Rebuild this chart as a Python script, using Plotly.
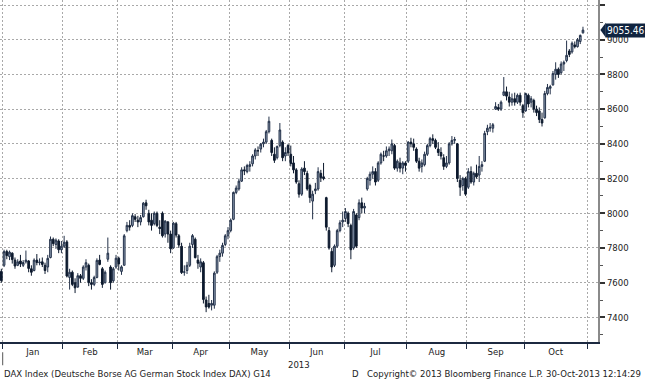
import pandas as pd
import plotly.graph_objects as go

# ---------------- data (DAX daily OHLC, 27-Dec-2012 .. 30-Oct-2013) ----------------
holidays = ["2012-12-31", "2013-01-01", "2013-03-29", "2013-04-01", "2013-05-01"]
month_labels = ["Jan", "Feb", "Mar", "Apr", "May", "Jun", "Jul", "Aug", "Sep", "Oct"]
y_ticks = [7400, 7600, 7800, 8000, 8200, 8400, 8600, 8800, 9000, 9200]

opens = [
    7660, 7665,
    # Jan
    7700, 7780, 7750, 7770, 7730, 7700, 7725, 7700, 7720, 7725, 7680, 7670, 7730, 7715, 7720, 7700, 7690, 7745, 7850, 7820, 7840, 7790,
    # Feb
    7810, 7835, 7630, 7660, 7600, 7575, 7640, 7625, 7690, 7700, 7600, 7590, 7630, 7730, 7680, 7600, 7735, 7690, 7610, 7690,
    # Mar
    7741, 7665, 7700, 7900, 7930, 7930, 7980, 7960, 7950, 7980, 8060, 8000, 7960, 7940, 8000, 7920, 8000, 7880, 7950, 7880,
    # Apr
    7800, 7940, 7870, 7810, 7660, 7670, 7700, 7820, 7850, 7730, 7690, 7715, 7500, 7480, 7470, 7470, 7660, 7750, 7770, 7820, 7870,
    # May
    7900, 7965, 8120, 8140, 8185, 8250, 8240, 8270, 8285, 8330, 8360, 8370, 8400, 8410, 8470, 8420, 8340, 8320, 8390, 8410, 8330, 8390,
    # Jun
    8340, 8290, 8250, 8170, 8110, 8260, 8230, 8160, 8070, 8130, 8140, 8230, 8210, 8090, 7900, 7780, 7700, 7810, 7900, 7950,
    # Jul
    7970, 8000, 7930, 7800, 7990, 7975, 8060, 8030, 8140, 8190, 8225, 8240, 8190, 8290, 8330, 8330, 8360, 8360, 8390, 8260, 8290, 8260, 8290,
    # Aug
    8300, 8410, 8400, 8370, 8300, 8270, 8280, 8340, 8390, 8430, 8420, 8370, 8350, 8320, 8270, 8290, 8400, 8420, 8400, 8190, 8160, 8200,
    # Sep
    8150, 8240, 8180, 8230, 8220, 8270, 8300, 8470, 8490, 8490, 8600, 8610, 8600, 8680, 8700, 8670, 8640, 8660, 8640, 8680, 8620,
    # Oct
    8590, 8680, 8640, 8650, 8600, 8590, 8540, 8550, 8690, 8720, 8740, 8800, 8830, 8810, 8860, 8880, 8935, 8930, 8970, 8960, 8990, 9040,
]
highs = [
    7690, 7680,
    7790, 7790, 7785, 7775, 7745, 7735, 7760, 7730, 7785, 7730, 7700, 7740, 7765, 7740, 7745, 7715, 7760, 7866, 7860, 7855, 7850, 7840,
    7870, 7845, 7680, 7670, 7625, 7655, 7650, 7700, 7735, 7710, 7620, 7640, 7740, 7760, 7690, 7670, 7860, 7700, 7690, 7760,
    7750, 7700, 7880, 7950, 7960, 8000, 7995, 7985, 7990, 8065, 8078, 8020, 8000, 8010, 8010, 7960, 8010, 7960, 7955, 7900,
    7950, 7950, 7880, 7830, 7700, 7720, 7830, 7880, 7860, 7760, 7740, 7725, 7520, 7530, 7500, 7665, 7760, 7790, 7830, 7880, 7920,
    7970, 8125, 8160, 8200, 8265, 8270, 8285, 8300, 8340, 8375, 8385, 8405, 8430, 8480, 8557, 8430, 8380, 8390, 8520, 8420, 8380, 8400,
    8390, 8330, 8260, 8190, 8265, 8300, 8245, 8170, 8130, 8175, 8265, 8250, 8290, 8095, 7920, 7800, 7820, 7910, 7960, 8010,
    8030, 8010, 7940, 8025, 8000, 8080, 8090, 8060, 8210, 8240, 8270, 8260, 8300, 8350, 8360, 8385, 8385, 8425, 8400, 8310, 8320, 8300, 8300,
    8415, 8435, 8430, 8380, 8320, 8310, 8355, 8400, 8440, 8455, 8430, 8410, 8380, 8340, 8330, 8410, 8445, 8440, 8405, 8220, 8210, 8210,
    8260, 8270, 8240, 8280, 8330, 8300, 8475, 8510, 8520, 8520, 8640, 8630, 8650, 8785, 8730, 8700, 8690, 8695, 8690, 8695, 8630,
    8695, 8690, 8675, 8660, 8620, 8610, 8580, 8705, 8745, 8740, 8820, 8870, 8840, 8875, 8880, 8995, 8946, 8990, 8990, 9010, 9030, 9075,
]
lows = [
    7640, 7600,
    7690, 7735, 7730, 7710, 7680, 7695, 7690, 7690, 7710, 7660, 7640, 7665, 7700, 7700, 7690, 7650, 7660, 7740, 7810, 7795, 7770, 7770,
    7800, 7630, 7560, 7580, 7540, 7570, 7600, 7615, 7670, 7580, 7560, 7580, 7625, 7700, 7570, 7595, 7720, 7560, 7600, 7680,
    7670, 7645, 7700, 7890, 7900, 7920, 7950, 7920, 7930, 7975, 8020, 7930, 7900, 7930, 7920, 7880, 7860, 7860, 7830, 7770,
    7795, 7860, 7800, 7650, 7640, 7650, 7690, 7800, 7740, 7680, 7660, 7480, 7430, 7450, 7440, 7450, 7650, 7720, 7750, 7810, 7850,
    7890, 7960, 8110, 8130, 8180, 8220, 8230, 8240, 8270, 8310, 8330, 8350, 8380, 8400, 8460, 8330, 8290, 8310, 8380, 8300, 8300, 8330,
    8270, 8230, 8170, 8090, 8100, 8220, 8130, 8060, 7965, 8110, 8130, 8180, 8190, 7900, 7790, 7660, 7690, 7800, 7890, 7920,
    7950, 7920, 7735, 7790, 7800, 7960, 8000, 8000, 8130, 8160, 8200, 8160, 8180, 8280, 8300, 8320, 8330, 8340, 8250, 8240, 8235, 8225, 8240,
    8290, 8380, 8360, 8290, 8240, 8235, 8270, 8330, 8380, 8400, 8370, 8330, 8310, 8250, 8260, 8280, 8390, 8400, 8180, 8100, 8130, 8100,
    8140, 8170, 8160, 8200, 8180, 8240, 8295, 8450, 8470, 8465, 8595, 8590, 8590, 8675, 8650, 8615, 8620, 8620, 8630, 8620, 8550,
    8585, 8610, 8610, 8580, 8560, 8520, 8500, 8545, 8680, 8685, 8735, 8770, 8780, 8800, 8820, 8870, 8900, 8920, 8950, 8955, 8975, 9035,
]
closes = [
    7670, 7612,
    7779, 7756, 7776, 7733, 7696, 7720, 7708, 7716, 7730, 7682, 7660, 7730, 7716, 7718, 7705, 7670, 7740, 7850, 7825, 7845, 7790, 7810,
    7833, 7638, 7660, 7590, 7570, 7640, 7625, 7690, 7715, 7600, 7590, 7630, 7728, 7705, 7590, 7660, 7770, 7600, 7680, 7741,
    7708, 7691, 7870, 7930, 7920, 7986, 7965, 7950, 7975, 8058, 8043, 7950, 7930, 8000, 7930, 7912, 7870, 7955, 7880, 7795,
    7943, 7874, 7817, 7658, 7662, 7700, 7810, 7871, 7744, 7712, 7720, 7503, 7460, 7459, 7480, 7655, 7750, 7770, 7815, 7870, 7900,
    7960, 8120, 8145, 8185, 8250, 8245, 8275, 8280, 8330, 8365, 8360, 8398, 8410, 8470, 8530, 8350, 8305, 8385, 8480, 8320, 8350, 8348,
    8286, 8250, 8180, 8110, 8255, 8240, 8140, 8090, 8110, 8140, 8240, 8205, 8200, 7920, 7800, 7690, 7810, 7900, 7945, 7960,
    8010, 7940, 7790, 8010, 7810, 8060, 8030, 8040, 8200, 8225, 8240, 8180, 8290, 8340, 8330, 8360, 8370, 8400, 8260, 8300, 8260, 8290, 8276,
    8410, 8400, 8380, 8300, 8260, 8290, 8340, 8390, 8430, 8420, 8380, 8350, 8330, 8270, 8290, 8400, 8420, 8425, 8200, 8150, 8200, 8110,
    8240, 8180, 8230, 8210, 8270, 8280, 8460, 8490, 8495, 8510, 8615, 8600, 8640, 8700, 8675, 8640, 8660, 8640, 8680, 8640, 8580,
    8690, 8630, 8660, 8600, 8580, 8540, 8520, 8690, 8725, 8730, 8805, 8830, 8800, 8860, 8870, 8910, 8915, 8980, 8960, 9000, 9025, 9055.46,
]
last_value = closes[-1]

# ---------------- trading-day axis ----------------
axis_days = [d for d in pd.bdate_range("2012-12-27", "2013-11-01")
             if d.strftime("%Y-%m-%d") not in holidays]
n = len(closes)
pos = list(range(n))

bounds = []
for k in range(1, len(axis_days)):
    if axis_days[k].month != axis_days[k - 1].month:
        bounds.append(k - 0.5)
mids = [(bounds[j] + bounds[j + 1]) / 2 for j in range(len(bounds) - 1)]

FONT = "DejaVu Sans Condensed, Liberation Sans, Arial, sans-serif"
GRID = "#a9a9a9"
GDASH = "2px,2px"
TXT = "#222222"

fig = go.Figure()
fig.add_trace(go.Candlestick(
    x=pos, open=opens, high=highs, low=lows, close=closes,
    increasing=dict(fillcolor="#8e9eb4", line=dict(color="#24324a", width=1)),
    decreasing=dict(fillcolor="#0d1a2e", line=dict(color="#0d1a2e", width=1)),
    whiskerwidth=0, showlegend=False, hoverinfo="skip",
))

fig.update_layout(
    width=645, height=380,
    margin=dict(l=0, r=47, t=0, b=38, pad=0),
    paper_bgcolor="white", plot_bgcolor="white",
    font=dict(family=FONT, size=9, color=TXT),
    showlegend=False,
    boxgap=0.12,
    xaxis=dict(
        range=[0.51, 219.5], rangeslider=dict(visible=False), automargin=False,
        tickmode="array", tickvals=mids, ticktext=month_labels,
        ticks="", showgrid=False, zeroline=False,
        showline=True, linecolor="#1c2940", linewidth=2,
        tickfont=dict(family=FONT, size=9.5, color=TXT),
        minor=dict(tickmode="array", tickvals=bounds, ticks="outside", ticklen=5,
                   tickwidth=1, tickcolor="#1c2940", showgrid=True,
                   gridcolor=GRID, griddash=GDASH, gridwidth=1),
    ),
    yaxis=dict(
        side="right", range=[7258, 9229], automargin=False,
        tickmode="array", tickvals=y_ticks,
        ticks="outside", ticklen=5, tickwidth=2, tickcolor="#333",
        showgrid=True, gridcolor=GRID, griddash=GDASH, gridwidth=1,
        zeroline=False, showline=True, linecolor="#8a8a8a", linewidth=2,
        tickfont=dict(family=FONT, size=9.5, color=TXT),
        minor=dict(dtick=100, tick0=7300, ticks="outside", ticklen=3,
                   tickwidth=1, tickcolor="#555", showgrid=False),
    ),
)

# last value tag
fig.add_shape(type="path", xref="paper", yref="y",
              path=f"M 1.004 {last_value} L 1.013 {last_value + 42} L 1.013 {last_value - 42} Z",
              fillcolor="#102440", line=dict(width=0))
fig.add_annotation(xref="paper", yref="y", x=1, y=last_value, xanchor="left", xshift=7,
                   text=f"{last_value:.2f}", showarrow=False, bgcolor="#102440",
                   borderpad=1, font=dict(family=FONT, size=10, color="white"))

# year label and footer
fig.add_annotation(xref="paper", yref="paper", x=0.5, y=-0.066, text="2013", showarrow=False,
                   yanchor="middle", font=dict(family=FONT, size=9.5, color=TXT))
footer_y = -0.092
fig.add_annotation(xref="paper", yref="paper", x=2 / 598, y=footer_y, xanchor="left", yanchor="middle",
                   text="DAX Index (Deutsche Borse AG German Stock Index DAX) G14", showarrow=False,
                   font=dict(family=FONT, size=9.5, color=TXT))
fig.add_annotation(xref="paper", yref="paper", x=350 / 598, y=footer_y, xanchor="left", yanchor="middle",
                   text="D", showarrow=False, font=dict(family=FONT, size=9.5, color=TXT))
fig.add_annotation(xref="paper", yref="paper", x=365 / 598, y=footer_y, xanchor="left", yanchor="middle",
                   text="Copyright© 2013 Bloomberg Finance L.P.", showarrow=False,
                   font=dict(family=FONT, size=9.5, color=TXT))
fig.add_annotation(xref="paper", yref="paper", x=643 / 598, y=footer_y, xanchor="right", yanchor="middle",
                   text="30-Oct-2013 12:14:29", showarrow=False,
                   font=dict(family=FONT, size=9.5, color=TXT))
# year separator below the axis
fig.add_shape(type="line", xref="x", yref="paper", x0=bounds[0], x1=bounds[0], y0=-0.03, y1=-0.068,
              line=dict(color="#555", width=1))

fig.write_html("out.html", config={"displayModeBar": False},
               post_script="document.body.style.margin='0';document.body.style.padding='0';")
